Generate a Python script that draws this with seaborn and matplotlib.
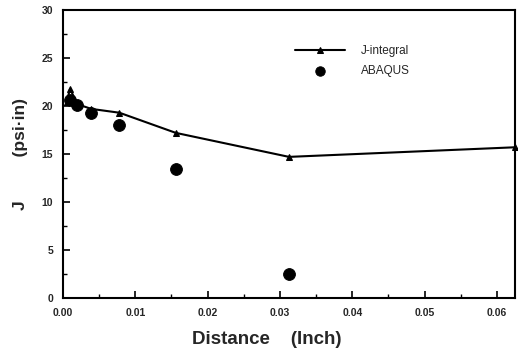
import matplotlib
matplotlib.use("Agg")
import matplotlib.pyplot as plt
import seaborn as sns
import pandas as pd
from matplotlib.ticker import MultipleLocator

# Data
j_dist = [0.00049, 0.00098, 0.00195, 0.0039, 0.0078, 0.0156, 0.03125, 0.0625]
j_vals = [20.4, 21.8, 20.2, 19.7, 19.3, 17.2, 14.7, 15.7]
ab_dist = [0.00098, 0.00195, 0.0039, 0.0078, 0.0156, 0.03125]
ab_vals = [20.6, 20.1, 19.3, 18.0, 13.4, 2.5]
x_ticks = [0.00, 0.01, 0.02, 0.03, 0.04, 0.05, 0.06]
y_ticks = [0, 5, 10, 15, 20, 25, 30]

sns.set_style("white")
plt.rcParams['font.family'] = ['Liberation Sans', 'DejaVu Sans']

df_j = pd.DataFrame({"Distance": j_dist, "J": j_vals})
df_a = pd.DataFrame({"Distance": ab_dist, "J": ab_vals})

fig = plt.figure(figsize=(5.18, 3.55), dpi=100)
ax = fig.add_axes([63 / 518, 1 - 298 / 355, (515 - 63) / 518, (298 - 10) / 355])

sns.lineplot(data=df_j, x="Distance", y="J", ax=ax, color="black", lw=1.5,
             marker="^", markersize=5, markeredgecolor="black",
             label="J-integral", clip_on=False)
sns.scatterplot(data=df_a, x="Distance", y="J", ax=ax, color="black", s=72,
                edgecolor="black", label="ABAQUS", zorder=3)

ax.set_xlim(0, 0.0625)
ax.set_ylim(0, 30)
ax.set_xticks(x_ticks)
ax.set_yticks(y_ticks)
ax.set_xticklabels([f"{v:.2f}" for v in x_ticks], fontweight="bold", fontsize=7.5)
ax.set_yticklabels([str(v) for v in y_ticks], fontweight="bold", fontsize=7.5)
ax.xaxis.set_minor_locator(MultipleLocator(0.005))
ax.yaxis.set_minor_locator(MultipleLocator(2.5))
ax.tick_params(axis="both", which="both", direction="in", color="black",
               bottom=True, left=True, top=False, right=False)
ax.tick_params(axis="both", which="major", length=5, width=1.2)
ax.tick_params(axis="x", which="major", pad=7)
ax.tick_params(axis="y", which="major", pad=7)
ax.tick_params(axis="both", which="minor", length=3, width=1)
for sp in ax.spines.values():
    sp.set_color("black")
    sp.set_linewidth(1.5)

ax.set_xlabel("Distance    (Inch)", fontsize=13.5, fontweight="bold", va="center")
ax.set_ylabel("J         (psi·in)", fontsize=12.5, fontweight="bold", va="center")
ax.xaxis.set_label_coords(0.45, -0.145)
ax.yaxis.set_label_coords(-0.095, 0.5)

leg = ax.legend(loc="upper left", bbox_to_anchor=(0.49, 0.915), frameon=False,
                fontsize=8.5, handlelength=4.2, labelspacing=0.7, handletextpad=1.4,
                markerscale=0.8)

fig.savefig("out.png", dpi=100)
